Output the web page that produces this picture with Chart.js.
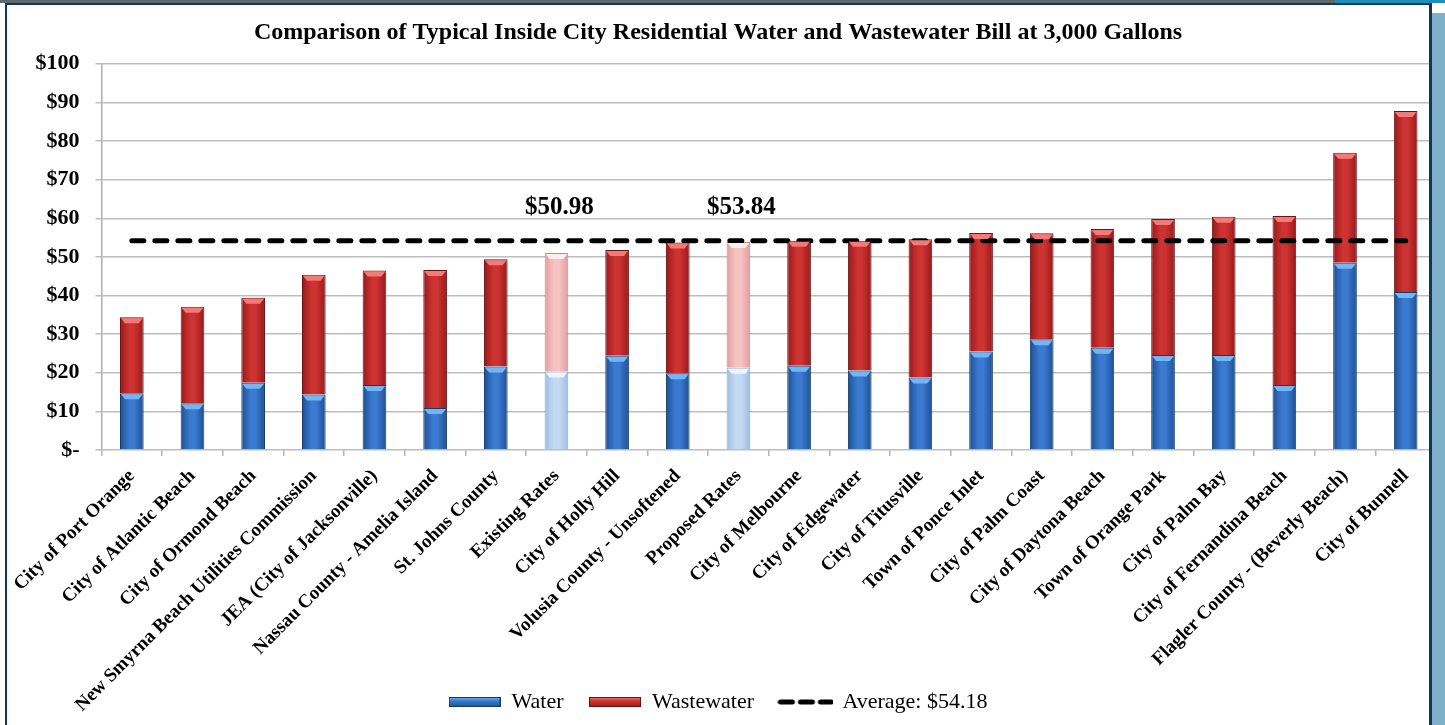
<!DOCTYPE html>
<html>
<head>
<meta charset="utf-8">
<script src="https://cdn.jsdelivr.net/npm/chart.js@4.4.1/dist/chart.umd.min.js"></script>
<style>
  html, body { margin: 0; padding: 0; background: #fff; }
  #wrap { position: relative; width: 1445px; height: 725px; overflow: hidden; }
  #chart { position: absolute; left: 0; top: 0; }
  .frame { position: absolute; }
</style>
</head>
<body>
<div id="wrap">
  <canvas id="chart" width="1445" height="725"></canvas>
  <div class="frame" style="left:0;top:0;width:1335px;height:3px;background:#5d6870"></div>
  <div class="frame" style="left:1335px;top:0;width:110px;height:3px;background:#1f8dbd"></div>
  <div class="frame" style="left:5px;top:3px;width:1427px;height:2px;background:#0e3757"></div>
  <div class="frame" style="left:5px;top:3px;width:2px;height:722px;background:#0e3757"></div>
  <div class="frame" style="left:1429px;top:3px;width:3px;height:722px;background:#0e3757"></div>
  <div class="frame" style="left:1432px;top:3px;width:13px;height:722px;background:#fff"></div>
  <div class="frame" style="left:1432px;top:13px;width:13px;height:712px;background:#7fb0cb"></div>
</div>
<script>
const categories = [
  'City of Port Orange', 'City of Atlantic Beach', 'City of Ormond Beach',
  'New Smyrna Beach Utilities Commission', 'JEA (City of Jacksonville)',
  'Nassau County - Amelia Island', 'St. Johns County', 'Existing Rates',
  'City of Holly Hill', 'Volusia County - Unsoftened', 'Proposed Rates',
  'City of Melbourne', 'City of Edgewater', 'City of Titusville',
  'Town of Ponce Inlet', 'City of Palm Coast', 'City of Daytona Beach',
  'Town of Orange Park', 'City of Palm Bay', 'City of Fernandina Beach',
  'Flagler County - (Beverly Beach)', 'City of Bunnell'
];
const water = [14.7, 12.1, 17.4, 14.4, 16.8, 10.9, 21.6, 20.3, 24.4, 19.9, 21.3,
               21.8, 20.6, 18.8, 25.5, 28.7, 26.5, 24.6, 24.6, 16.8, 48.5, 40.9];
const wastewater = [19.7, 25.0, 22.0, 31.0, 29.7, 35.7, 27.8, 30.68, 27.4, 33.8, 32.54,
                    32.4, 33.6, 35.8, 30.7, 27.4, 30.7, 35.2, 35.8, 43.8, 28.5, 46.9];
const AVERAGE = 54.18;
const highlighted = [7, 10];   // Existing / Proposed rates
const callouts = [
  { index: 7, text: '$50.98' },
  { index: 10, text: '$53.84' }
];
const yTicks = [0, 10, 20, 30, 40, 50, 60, 70, 80, 90, 100];

const SERIF = "'Liberation Serif', 'Times New Roman', serif";

// [edge, center, border, cap highlight]
const pal = {
  water:      { base: ['#1d4f92', '#3a7ad0', '#163a66', '#74b6f4'], light: ['#9dbde3', '#c4daf3', '#8aa9cf', '#eef5fd'] },
  wastewater: { base: ['#97191b', '#cc3331', '#6a1213', '#f27a78'], light: ['#e39c9c', '#f6c3c3', '#c98888', '#fdeeee'] }
};
const palByDataset = [pal.water, pal.wastewater];

function barFill(p) {
  return (ctx) => {
    const c = highlighted.includes(ctx.dataIndex) ? p.light : p.base;
    const xs = ctx.chart.scales.x;
    if (!xs || ctx.dataIndex === undefined) return c[1];
    const cx = xs.getPixelForValue(ctx.dataIndex);
    if (!Number.isFinite(cx)) return c[1];
    const g = ctx.chart.ctx.createLinearGradient(cx - 12, 0, cx + 12, 0);
    g.addColorStop(0, c[0]);
    g.addColorStop(0.4, c[1]);
    g.addColorStop(0.6, c[1]);
    g.addColorStop(1, c[0]);
    return g;
  };
}
function barBorder(p) {
  return (ctx) => (highlighted.includes(ctx.dataIndex) ? p.light : p.base)[2];
}

function boxIcon(c) {
  const cv = document.createElement('canvas');
  cv.width = 52; cv.height = 10;
  const x = cv.getContext('2d');
  const g = x.createLinearGradient(0, 0, 0, 10);
  g.addColorStop(0, c[3]); g.addColorStop(0.4, c[1]); g.addColorStop(1, c[0]);
  x.fillStyle = g; x.fillRect(0, 0, 52, 10);
  x.strokeStyle = c[2]; x.lineWidth = 1; x.strokeRect(0.5, 0.5, 51, 9);
  return cv;
}
function dashIcon() {
  const cv = document.createElement('canvas');
  cv.width = 56; cv.height = 8;
  const x = cv.getContext('2d');
  x.strokeStyle = '#000'; x.lineWidth = 5; x.lineCap = 'round';
  x.setLineDash([12, 8]);
  x.beginPath(); x.moveTo(3, 4); x.lineTo(54, 4); x.stroke();
  return cv;
}
const legendIcons = [boxIcon(pal.water.base), boxIcon(pal.wastewater.base), dashIcon()];

// rounded highlight at the top of each bar segment (3-D look)
const capPlugin = {
  id: 'caps',
  afterDatasetsDraw(chart) {
    const ctx = chart.ctx;
    [0, 1].forEach(di => {
      const meta = chart.getDatasetMeta(di);
      meta.data.forEach((bar, i) => {
        const p = palByDataset[di];
        const c = highlighted.includes(i) ? p.light : p.base;
        const half = bar.width / 2 - 1;
        const top = bar.y + 1;
        ctx.save();
        ctx.fillStyle = c[3];
        ctx.beginPath();
        ctx.moveTo(bar.x - half, top);
        ctx.lineTo(bar.x + half, top);
        ctx.lineTo(bar.x + half - 4, top + 5);
        ctx.lineTo(bar.x - half + 4, top + 5);
        ctx.closePath();
        ctx.fill();
        ctx.restore();
      });
    });
  }
};

const calloutPlugin = {
  id: 'callouts',
  afterLayout(chart) {
    // let the rotated category labels run down past the legend line
    chart.scales.x.bottom = chart.height;
  },
  afterDraw(chart) {
    const { ctx, scales: { x, y } } = chart;
    ctx.save();
    ctx.font = 'bold 25px ' + SERIF;
    ctx.fillStyle = '#000';
    ctx.textAlign = 'center';
    ctx.textBaseline = 'middle';
    callouts.forEach(c => {
      ctx.fillText(c.text, x.getPixelForValue(c.index) + 3, y.getPixelForValue(62.7));
    });
    ctx.restore();
  }
};

new Chart(document.getElementById('chart'), {
  data: {
    labels: categories,
    datasets: [
      {
        type: 'bar', label: 'Water', data: water, stack: 'bill', order: 1,
        backgroundColor: barFill(pal.water), borderColor: barBorder(pal.water),
        borderWidth: 1, barPercentage: 0.39, categoryPercentage: 1
      },
      {
        type: 'bar', label: 'Wastewater', data: wastewater, stack: 'bill', order: 1,
        backgroundColor: barFill(pal.wastewater), borderColor: barBorder(pal.wastewater),
        borderWidth: 1, barPercentage: 0.39, categoryPercentage: 1
      },
      {
        type: 'line', label: 'Average: $' + AVERAGE.toFixed(2), stack: 'avg', order: 0,
        data: categories.map(() => AVERAGE),
        borderColor: '#000', borderWidth: 5, borderDash: [12, 11], borderCapStyle: 'round',
        pointRadius: 0, fill: false
      }
    ]
  },
  options: {
    responsive: false,
    animation: false,
    layout: { padding: { left: 0, right: 9, top: 0, bottom: 2 } },
    scales: {
      x: {
        stacked: true,
        grid: { drawOnChartArea: false, tickLength: 6, color: '#b5b5b5', lineWidth: 1.5 },
        border: { display: false },
        ticks: {
          autoSkip: false, maxRotation: 45, minRotation: 45, padding: 9,
          color: '#000', font: { family: SERIF, weight: 'bold', size: 19 }
        },
        afterFit: (s) => { s.height = 231; }
      },
      y: {
        stacked: true,
        min: 0, max: 100,
        afterBuildTicks: (s) => { s.ticks = yTicks.map(v => ({ value: v })); },
        grid: { color: '#bdbdbd', lineWidth: 1.5, tickLength: 6 },
        border: { color: '#b0b0b0', width: 1.5 },
        ticks: {
          padding: 16, color: '#000', font: { family: SERIF, weight: 'bold', size: 22 },
          callback: (v) => v === 0 ? '$-' : '$' + v
        },
        afterFit: (s) => { s.width = 101.5; }
      }
    },
    plugins: {
      title: {
        display: true,
        text: 'Comparison of Typical Inside City Residential Water and Wastewater Bill at 3,000 Gallons',
        color: '#000',
        font: { family: SERIF, weight: 'bold', size: 24 },
        padding: { top: 18, bottom: 17 }
      },
      legend: {
        position: 'bottom',
        labels: {
          usePointStyle: true, pointStyleWidth: 52, padding: 10,
          color: '#000', font: { family: SERIF, size: 22 },
          sort: (a, b) => a.datasetIndex - b.datasetIndex,
          generateLabels(chart) {
            const items = Chart.defaults.plugins.legend.labels.generateLabels(chart);
            items.forEach(it => {
              it.pointStyle = legendIcons[it.datasetIndex];
              if (it.datasetIndex < 2) it.text += '\u2002\u2009';
            });
            return items;
          }
        }
      },
      tooltip: { enabled: false }
    }
  },
  plugins: [capPlugin, calloutPlugin]
});
</script>
</body>
</html>
